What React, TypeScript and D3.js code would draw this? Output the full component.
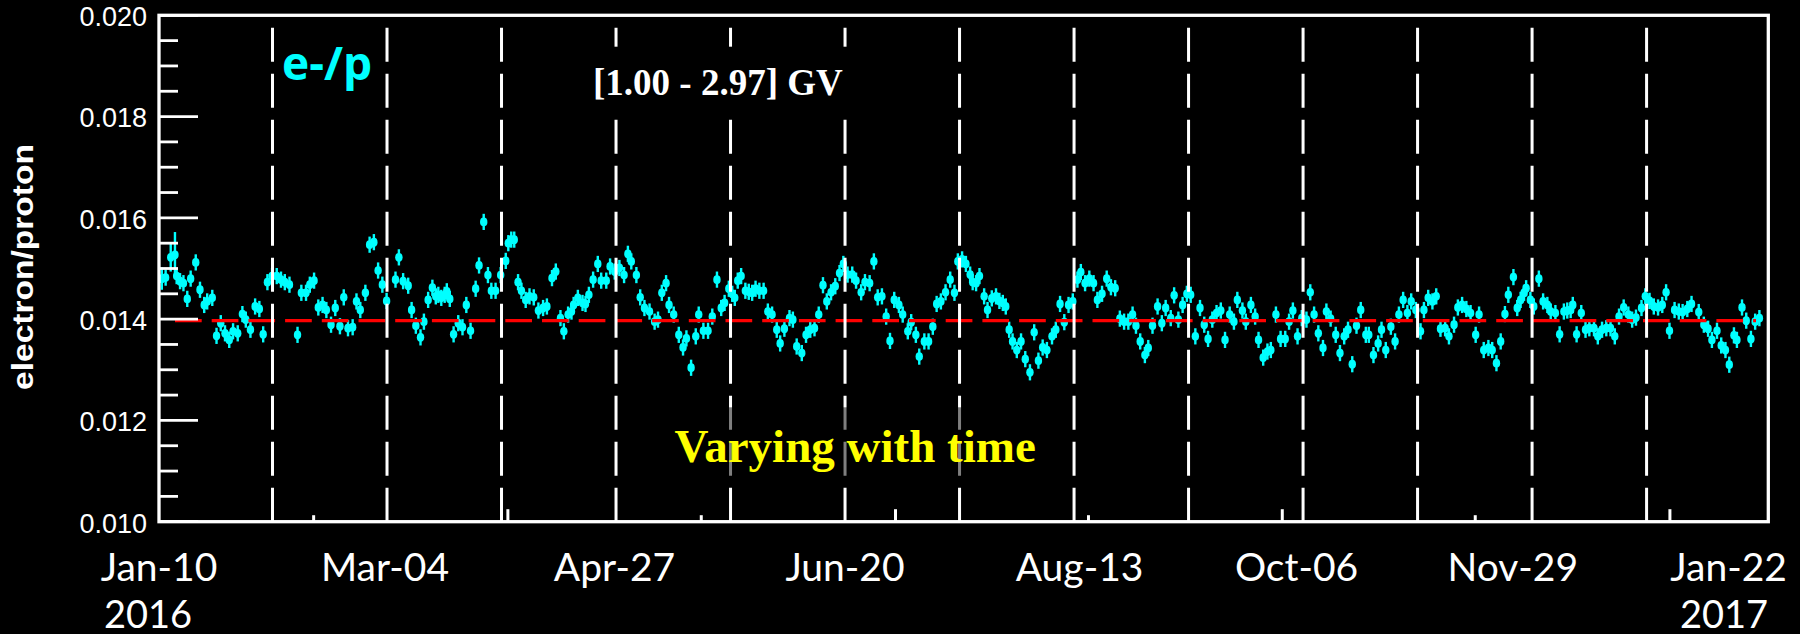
import React, { useEffect } from 'react';
import * as d3 from 'd3';

// ---------------- DATA ----------------
// days since 2016-01-10 (daily e-/p ratio, rigidity bin [1.00 - 2.97] GV)
const obsDay = [
  0.9, 1.8, 3.0, 4.0, 4.4, 5.2, 6.0, 6.9, 7.7, 8.9, 9.9, 10.9, 11.6, 12.8, 13.8, 14.8, 15.8, 16.8, 17.7, 18.8,
  19.9, 20.7, 21.8, 22.9, 23.9, 24.8, 25.8, 26.9, 28.0, 29.0, 29.9, 31.0, 32.9, 33.8, 34.9, 35.8, 36.8, 37.8, 38.8, 39.7,
  40.8, 41.8, 42.9, 43.8, 44.8, 45.9, 46.8, 47.7, 48.9, 49.9, 50.9, 51.9, 52.9, 53.9, 56.0, 56.8, 57.8, 59.0, 59.8, 60.8,
  61.9, 62.7, 63.7,
  64.7, 65.5, 66.1, 66.8, 67.6, 68.1, 68.8, 69.7, 70.8, 71.8, 72.7, 73.7, 74.9, 75.7, 76.8, 77.8, 78.6, 79.6, 80.8, 82.0,
  82.6, 83.3, 84.0, 84.9, 85.7, 86.7, 87.6, 88.6, 89.7, 90.8, 91.7, 92.9, 93.8, 94.9, 95.7, 96.7, 97.5, 98.0, 99.0, 100.1,
  100.8, 101.6, 102.6, 103.7, 104.5, 105.7, 106.6, 107.7, 108.8, 109.9, 110.8, 111.6, 112.8, 113.7, 114.7, 115.9, 117.1, 117.9, 118.8, 119.8,
  120.5, 121.6, 122.8, 123.8, 124.6, 125.7, 126.8, 127.5,
  128.6, 129.7, 130.7, 131.8, 132.8, 133.6, 134.6, 135.4, 136.0, 136.7, 137.5, 138.5, 139.3, 140.1, 140.9, 141.8, 142.8, 143.8, 144.8, 145.9,
  146.7, 147.7, 148.9, 149.7, 150.6, 151.8, 152.8, 153.8, 154.8, 155.8, 156.8, 157.7, 158.7, 159.7, 160.7, 161.6, 162.6, 163.7, 164.6, 165.8,
  166.7, 167.8, 168.8, 169.7, 170.7, 171.7, 172.6, 173.6, 174.7, 175.6, 176.8, 177.6, 178.7, 179.5, 180.7, 181.7, 182.7, 183.6, 184.6, 185.7,
  186.8, 187.8, 188.6, 189.6, 190.5,
  191.5, 192.1, 192.9, 193.7, 194.8, 195.6, 196.6, 197.6, 198.4, 199.2, 199.9, 200.7, 201.5, 202.5, 203.5, 204.5, 205.6, 206.6, 207.6, 208.6,
  209.6, 210.8, 211.7, 212.7, 213.7, 214.7, 215.7, 216.8, 217.6, 218.6, 219.6, 220.6, 221.5, 222.6, 223.7, 224.7, 225.7, 226.8, 227.8, 228.8,
  229.8, 230.6, 231.6, 232.7, 233.5, 234.5, 235.7, 236.7, 237.6, 238.8, 239.6, 240.6, 241.6, 242.6, 243.5, 244.6, 245.7, 246.7, 247.6, 248.6,
  249.6, 250.6, 251.6, 252.7, 253.7, 254.5,
  255.7, 256.5, 257.7, 258.7, 259.5, 260.6, 261.6, 262.4, 263.6, 264.7, 265.8, 266.7, 267.6, 268.7, 269.7, 270.8, 271.7, 272.6, 273.6, 274.7,
  275.5, 276.5, 277.7, 278.7, 279.7, 280.6, 281.6, 282.6, 283.6, 284.8, 285.5, 286.6, 287.7, 288.5, 289.5, 290.7, 291.7, 292.6, 293.6, 294.6,
  295.5, 296.6, 297.7, 298.5, 299.5, 300.5, 301.4, 302.4, 303.5, 304.4, 305.6, 306.5, 307.5, 308.5, 309.5, 310.7, 311.5, 312.6, 313.7, 314.6,
  315.6, 316.6, 317.6, 318.4,
  319.6, 320.5, 321.3, 322.1, 322.6, 323.6, 324.4, 325.6, 326.6, 327.6, 328.4, 329.5, 330.5, 331.5, 332.3, 333.1, 333.6, 334.5, 335.6, 336.6,
  337.5, 338.6, 339.5, 340.5, 341.5, 342.5, 343.5, 344.5, 345.6, 346.7, 347.6, 348.5, 349.8, 350.7, 351.7, 352.7, 353.7, 354.7, 355.6, 356.4,
  357.6, 358.6, 359.5, 360.6, 361.6, 363.3, 364.5, 365.5, 366.4, 367.6, 368.6, 369.6, 370.5, 371.6, 372.3, 373.5, 374.5, 375.6, 376.6, 377.6,
];

const eOverP = [
  0.01480, 0.01482, 0.01522, 0.01527, 0.01485, 0.01475, 0.01471, 0.01440, 0.01480, 0.01512, 0.01458, 0.01428, 0.01435, 0.01442, 0.01367, 0.01392, 0.01372, 0.01359, 0.01376, 0.01372,
  0.01410, 0.01399, 0.01379, 0.01425, 0.01420, 0.01370, 0.01473, 0.01485, 0.01485, 0.01478, 0.01473, 0.01468, 0.01369, 0.01452, 0.01452, 0.01468, 0.01476, 0.01423, 0.01428, 0.01418,
  0.01389, 0.01422, 0.01386, 0.01443, 0.01382, 0.01384, 0.01435, 0.01418, 0.01452, 0.01547, 0.01552, 0.01496, 0.01468, 0.01436, 0.01478, 0.01522, 0.01475, 0.01466, 0.01418, 0.01387,
  0.01364, 0.01395, 0.01438,
  0.01462, 0.01445, 0.01448, 0.01442, 0.01448, 0.01455, 0.01440, 0.01370, 0.01392, 0.01384, 0.01428, 0.01377, 0.01460, 0.01506, 0.01592, 0.01487, 0.01456, 0.01456, 0.01487, 0.01515,
  0.01550, 0.01557, 0.01557, 0.01473, 0.01456, 0.01438, 0.01445, 0.01443, 0.01417, 0.01422, 0.01425, 0.01481, 0.01494, 0.01402, 0.01376, 0.01409, 0.01415, 0.01428, 0.01442, 0.01432,
  0.01430, 0.01448, 0.01478, 0.01509, 0.01476, 0.01476, 0.01504, 0.01494, 0.01501, 0.01487, 0.01529, 0.01514, 0.01487, 0.01443, 0.01422, 0.01415, 0.01395, 0.01399, 0.01452, 0.01471,
  0.01428, 0.01409, 0.01369, 0.01344, 0.01362, 0.01304, 0.01366, 0.01409,
  0.01377, 0.01377, 0.01405, 0.01478, 0.01422, 0.01432, 0.01460, 0.01450, 0.01442, 0.01476, 0.01485, 0.01456, 0.01454, 0.01452, 0.01460, 0.01456, 0.01456, 0.01415, 0.01409, 0.01379,
  0.01352, 0.01381, 0.01402, 0.01399, 0.01346, 0.01333, 0.01369, 0.01379, 0.01382, 0.01409, 0.01467, 0.01435, 0.01453, 0.01465, 0.01491, 0.01509, 0.01488, 0.01488, 0.01476, 0.01453,
  0.01473, 0.01471, 0.01514, 0.01443, 0.01445, 0.01405, 0.01357, 0.01438, 0.01428, 0.01409, 0.01376, 0.01394, 0.01369, 0.01326, 0.01356, 0.01356, 0.01385, 0.01430, 0.01435, 0.01453,
  0.01478, 0.01452, 0.01514, 0.01518, 0.01509,
  0.01488, 0.01473, 0.01471, 0.01485, 0.01445, 0.01418, 0.01441, 0.01445, 0.01436, 0.01432, 0.01425, 0.01379, 0.01356, 0.01339, 0.01356, 0.01321, 0.01295, 0.01374, 0.01318, 0.01344,
  0.01339, 0.01366, 0.01379, 0.01430, 0.01394, 0.01428, 0.01435, 0.01478, 0.01493, 0.01471, 0.01480, 0.01471, 0.01438, 0.01450, 0.01480, 0.01463, 0.01461, 0.01401, 0.01395, 0.01395,
  0.01409, 0.01387, 0.01356, 0.01329, 0.01343, 0.01387, 0.01425, 0.01392, 0.01422, 0.01402, 0.01447, 0.01399, 0.01428, 0.01450, 0.01448, 0.01366, 0.01422, 0.01389, 0.01361, 0.01399,
  0.01412, 0.01417, 0.01359, 0.01409, 0.01395, 0.01438,
  0.01417, 0.01395, 0.01428, 0.01405, 0.01359, 0.01324, 0.01336, 0.01339, 0.01409, 0.01361, 0.01361, 0.01395, 0.01417, 0.01366, 0.01402, 0.01399, 0.01453, 0.01409, 0.01372, 0.01343,
  0.01415, 0.01401, 0.01369, 0.01333, 0.01366, 0.01379, 0.01311, 0.01387, 0.01418, 0.01369, 0.01369, 0.01329, 0.01352, 0.01379, 0.01339, 0.01385, 0.01356, 0.01409, 0.01438, 0.01412,
  0.01435, 0.01418, 0.01376, 0.01418, 0.01442, 0.01435, 0.01445, 0.01381, 0.01382, 0.01366, 0.01389, 0.01423, 0.01428, 0.01420, 0.01412, 0.01369, 0.01409, 0.01339, 0.01343, 0.01339,
  0.01313, 0.01356, 0.01410, 0.01448,
  0.01483, 0.01422, 0.01438, 0.01452, 0.01461, 0.01438, 0.01425, 0.01480, 0.01435, 0.01428, 0.01415, 0.01412, 0.01370, 0.01415, 0.01417, 0.01418, 0.01428, 0.01370, 0.01412, 0.01379,
  0.01382, 0.01382, 0.01366, 0.01379, 0.01382, 0.01382, 0.01366, 0.01405, 0.01423, 0.01409, 0.01399, 0.01403, 0.01422, 0.01445, 0.01436, 0.01425, 0.01423, 0.01428, 0.01453, 0.01377,
  0.01418, 0.01415, 0.01414, 0.01420, 0.01430, 0.01414, 0.01389, 0.01381, 0.01359, 0.01377, 0.01348, 0.01339, 0.01310, 0.01368, 0.01359, 0.01423, 0.01397, 0.01361, 0.01395, 0.01402,
];

// typical statistical error; a few early days have larger errors
const typicalErr = 0.00016;
const largeErrDays = [0.9, 3.0, 4.0];
const largeErrValues = [0.00022, 0.00028, 0.00045];

const referenceRatio = 0.01397; // long-term average (red dashed)
const bartelsDays = [27, 54, 81, 108, 135, 162, 189, 216, 243, 270, 297, 324, 351];
const rootTickDays = [36.7, 82.5, 128.1, 173.9, 219.4, 265.1, 310.6, 356.5];
const yMajorTicks = [0.010, 0.012, 0.014, 0.016, 0.018, 0.020];
const yMinorTicks = [0.0105, 0.011, 0.0115, 0.0125, 0.013, 0.0135, 0.0145, 0.015, 0.0155, 0.0165, 0.017, 0.0175, 0.0185, 0.019, 0.0195];
const xLabelText = ['Jan-10', 'Mar-04', 'Apr-27', 'Jun-20', 'Aug-13', 'Oct-06', 'Nov-29', 'Jan-22'];
const xLabelDays = [0, 54, 108, 162, 216, 270, 324, 378];
const yearText = ['2016', '2017'];

// ---------------- LAYOUT ----------------
const W = 1800;
const H = 634;
const LEFT = 158;
const RIGHT = 1768.3;
const TOP = 15.3;
const BOTTOM = 521.7;
const X_LABEL_NUDGE = [1, -2, -1.5, 0, 5.5, -6.5, -19.3, -32.5];

export default function App() {
  useEffect(() => {
    document.body.style.margin = '0';
    document.body.style.background = '#000';
  }, []);

  const x = d3.scaleLinear().domain([0, 379.7]).range([LEFT, RIGHT]);
  const y = d3.scaleLinear().domain([0.010, 0.020]).range([BOTTOM, TOP]);

  const pts = obsDay.map((d, i) => {
    const k = largeErrDays.indexOf(d);
    return { d, v: eOverP[i], e: k >= 0 ? largeErrValues[k] : typicalErr };
  });

  return (
    <svg width={W} height={H} style={{ position: 'absolute', left: 0, top: 0, display: 'block', background: '#000' }}>
      <rect x={0} y={0} width={W} height={H} fill="#000" />

      {/* data: error bars + markers */}
      <g>
        {pts.map((p, i) => (
          <line key={'e' + i} x1={x(p.d)} x2={x(p.d)} y1={y(p.v - p.e)} y2={y(p.v + p.e)} stroke="#00FFFF" strokeWidth={2.4} />
        ))}
        {pts.map((p, i) => (
          <ellipse key={'m' + i} cx={x(p.d)} cy={y(p.v)} rx={3.7} ry={4.4} fill="#00FFFF" />
        ))}
      </g>

      {/* reference red dashed line */}
      <line x1={175} x2={1756} y1={y(referenceRatio)} y2={y(referenceRatio)} stroke="#FF0000" strokeWidth={3.3} strokeDasharray="26.7 10" />

      {/* Bartels rotation boundaries */}
      {bartelsDays.map((d) => (
        <line key={'b' + d} x1={x(d)} x2={x(d)} y1={27.7} y2={BOTTOM} stroke="#FFFFFF" strokeWidth={3} strokeDasharray="34 12" />
      ))}

      {/* opaque box behind the rigidity label */}
      <rect x={585} y={46.7} width={270} height={70} fill="#000" />
      <text x={593} y={95} fill="#FFFFFF" fontFamily="'Liberation Serif', 'Times New Roman', serif" fontWeight="bold" fontSize={37}>[1.00 - 2.97] GV</text>

      {/* semi-transparent box behind annotation */}
      <rect x={660} y={407.3} width={392} height={73} fill="#000" fillOpacity={0.5} />
      <text x={674.6} y={462} fill="#FFFF00" fontFamily="'Liberation Serif', 'Times New Roman', serif" fontWeight="bold" fontSize={47}>Varying with time</text>

      {/* frame */}
      <rect x={LEFT + 1} y={TOP} width={RIGHT - LEFT - 1} height={BOTTOM - TOP} fill="none" stroke="#FFFFFF" strokeWidth={3.3} />

      {/* y ticks */}
      {yMajorTicks.map((t) => (
        <line key={'ym' + t} x1={LEFT + 1} x2={LEFT + 40} y1={y(t)} y2={y(t)} stroke="#FFFFFF" strokeWidth={2.8} />
      ))}
      {yMinorTicks.map((t) => (
        <line key={'yn' + t} x1={LEFT + 1} x2={LEFT + 20} y1={y(t)} y2={y(t)} stroke="#FFFFFF" strokeWidth={2.8} />
      ))}
      {yMajorTicks.map((t) => (
        <text key={'yl' + t} x={147} y={y(t) + 10.8} textAnchor="end" fill="#FFFFFF" fontFamily="'Liberation Sans', Arial, sans-serif" fontSize={27}>
          {d3.format('.3f')(t)}
        </text>
      ))}

      {/* residual bottom ticks */}
      {rootTickDays.map((d, i) => (
        <line key={'rt' + i} x1={x(d)} x2={x(d)} y1={BOTTOM} y2={BOTTOM - (i % 2 === 0 ? 6.5 : 12.5)} stroke="#FFFFFF" strokeWidth={3} />
      ))}

      {/* y title */}
      <text transform="translate(33,267) rotate(-90)" textAnchor="middle" fill="#FFFFFF" fontFamily="'Liberation Sans', Arial, sans-serif" fontWeight="bold" fontSize={29} textLength={246} lengthAdjust="spacingAndGlyphs">
        electron/proton
      </text>

      {/* x labels */}
      {xLabelText.map((t, i) => (
        <text key={'xl' + t} x={x(xLabelDays[i]) + X_LABEL_NUDGE[i]} y={580.7} textAnchor="middle" fill="#FFFFFF" fontFamily="Lato, 'Open Sans', sans-serif" fontSize={39}>
          {t}
        </text>
      ))}
      <text x={104} y={627.5} fill="#FFFFFF" fontFamily="Lato, 'Open Sans', sans-serif" fontSize={38}>{yearText[0]}</text>
      <text x={1680} y={627.5} fill="#FFFFFF" fontFamily="Lato, 'Open Sans', sans-serif" fontSize={38}>{yearText[1]}</text>

      {/* in-plot label */}
      <text x={282} y={80} fill="#00FFFF" fontFamily="'Open Sans', sans-serif" fontWeight="bold" fontSize={46}>e-/p</text>
    </svg>
  );
}
